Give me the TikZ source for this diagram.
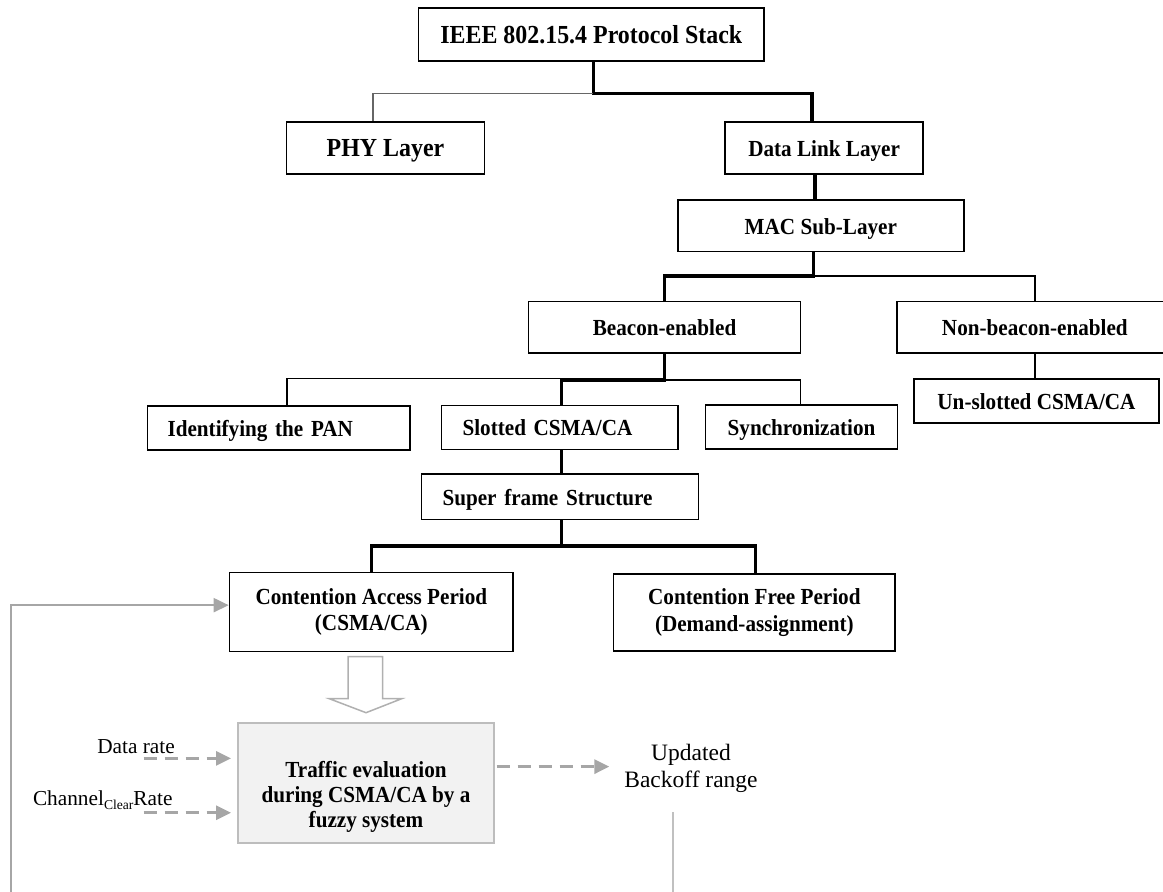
\documentclass[tikz,border=0pt]{standalone}
\usepackage{fontspec}
\setmainfont{Liberation Serif}
\newfontfamily\boxfont[FakeStretch=0.92]{Liberation Serif}
\usetikzlibrary{arrows.meta}
\definecolor{linkgray}{HTML}{A6A6A6}
\definecolor{fuzzyfill}{HTML}{F2F2F2}
\definecolor{fuzzyedge}{HTML}{BDBDBD}
\definecolor{bargray}{HTML}{C0C0C0}
\definecolor{blockgray}{HTML}{B0B0B0}
\begin{document}
\begin{tikzpicture}[x=1pt,y=-1pt,
  box/.style={draw=black, line width=1.7pt, inner sep=0pt, anchor=north west,
    align=center, font=\boxfont\fontsize{23}{26.6}\selectfont\bfseries},
  sbox/.style={box, text height=20pt, text depth=3pt},
  bigbox/.style={sbox, font=\boxfont\fontsize{26}{28}\selectfont\bfseries},
  thickline/.style={line width=3.2pt},
  thinline/.style={line width=1.3pt},
  plainlabel/.style={inner sep=0pt, font=\fontsize{21.3}{25}\selectfont},
  dasharrow/.style={draw=linkgray, line width=3pt, dash pattern=on 13pt off 8pt,
    -{Triangle[length=15pt,width=14pt,fill=linkgray]}},
  fbarrow/.style={draw=linkgray, line width=2pt,
    -{Triangle[length=15pt,width=14pt,fill=linkgray]}}]
\useasboundingbox (0,0) rectangle (1163,892);

% protocol stack tree
\node[bigbox, minimum width=345.8pt, minimum height=52.7pt] (root) at (417.5,7.3) {IEEE 802.15.4 Protocol Stack};
\node[bigbox, minimum width=198.2pt, minimum height=52pt] (phy) at (285.5,121) {PHY Layer};
\node[sbox, minimum width=198.2pt, minimum height=52pt] (dl) at (724.2,121) {Data Link Layer};
\node[sbox, minimum width=286pt, minimum height=51.7pt] (mac) at (677,199) {MAC Sub-Layer};
\node[sbox, minimum width=272pt, minimum height=51.6pt] (be) at (527.7,300.7) {Beacon-enabled};
\node[sbox, minimum width=276pt, minimum height=51.6pt] (nbe) at (896,300.7) {Non-beacon-enabled};
\node[sbox, text width=222.6pt, inner xsep=20pt, align=left, minimum height=44pt] (pan) at (146.7,405) {Identifying the PAN};
\node[sbox, text width=194.6pt, inner xsep=21pt, align=left, minimum height=44pt] (slot) at (440.7,404.5) {Slotted CSMA/CA};
\node[sbox, minimum width=192pt, minimum height=44pt] (sync) at (704.7,404) {Synchronization};
\node[sbox, minimum width=244.7pt, minimum height=44pt] (unslot) at (913.3,378.3) {Un-slotted CSMA/CA};
\node[sbox, text width=235pt, inner xsep=21pt, align=left, minimum height=45.4pt] (sfs) at (420.7,473.3) {Super frame Structure};
\node[box, minimum width=283.6pt, minimum height=79pt] (cap) at (228.7,571.7) {Contention Access Period\\(CSMA/CA)};
\node[box, minimum width=281.6pt, minimum height=76.7pt] (cfp) at (612.7,573.3) {Contention Free Period\\(Demand-assignment)};

% fuzzy traffic evaluation block
\node[box, draw=fuzzyedge, fill=fuzzyfill, line width=2pt, minimum width=255.4pt,
  minimum height=120.3pt, text height=94.7pt, text depth=5pt,
  font=\boxfont\fontsize{23}{25}\selectfont\bfseries] (fz) at (237.3,721.7)
  {Traffic evaluation\\during CSMA/CA by a\\fuzzy system};
\node[plainlabel, anchor=base east] (dr) at (175,753.3) {Data rate};
\node[plainlabel, anchor=base east] (ccr) at (172.7,805)
  {Channel\raisebox{-4.5pt}{\fontsize{13.6}{15}\selectfont Clear}Rate};
\node[inner sep=0pt, anchor=north, align=center, font=\fontsize{23.5}{26.7}\selectfont] (upd) at (691,744)
  {Updated\\Backoff range};

% tree connectors
\draw[thickline] ([xshift=2pt]root.south) -- ++(0,31.7) -| ([xshift=-12.1pt]dl.north);
\draw[thinline, draw=black!60] ([xshift=2pt]root.south) ++(0,31.7) -| ([xshift=-12.6pt]phy.north);
\draw[thickline] ([xshift=-9.1pt]dl.south) -- ([xshift=-9.1pt]dl.south |- mac.north);
\draw[thickline] ([xshift=-7.3pt]mac.south) -- ++(0,23.6) -| (be.north);
\draw[thinline] ([xshift=-7.3pt]mac.south) ++(0,23.6) -| (nbe.north);
\draw[thickline] (be.south) -- ++(0,26) -| ([xshift=2pt]slot.north);
\draw[thinline] (be.south) ++(0,26) -| ([xshift=-1.4pt]sync.north);
\draw[thinline] ([xshift=2pt]slot.north) ++(0,-26.2) -| ([xshift=8pt]pan.north);
\draw[thinline] (nbe.south) -- (nbe.south |- unslot.north);
\draw[thickline] ([xshift=2pt]slot.south) -- ([xshift=2pt]slot.south |- sfs.north);
\draw[thickline] ([xshift=1.8pt]sfs.south) -- ++(0,25.6) -| (cap.north);
\draw[thickline] ([xshift=1.8pt]sfs.south) ++(0,25.6) -| ([xshift=1.5pt]cfp.north);

% hollow block arrow from the access period to the fuzzy system
\draw[draw=blockgray, line width=1.5pt, fill=white, line join=miter]
  (348,656.7) -- (382.7,656.7) -- (382.7,698.7) -- (401.7,698.7) -- (366,712.7)
  -- (329.3,698.7) -- (348,698.7) -- cycle;

% inputs and output of the fuzzy system
\draw[dasharrow] ([xshift=-93.6pt,yshift=24.5pt]fz.west) -- ([xshift=-6.3pt,yshift=24.5pt]fz.west);
\draw[dasharrow] ([xshift=-93.6pt,yshift=-29.9pt]fz.west) -- ([xshift=-6.3pt,yshift=-29.9pt]fz.west);
\draw[dasharrow] ([xshift=2pt,yshift=16.2pt]fz.east) -- ([xshift=114.6pt,yshift=16.2pt]fz.east);

% feedback path
\coordinate (fb) at (11,895);
\draw[fbarrow] (fb) |- ([yshift=6.9pt]cap.west);
\draw[line width=2pt, draw=bargray] ([xshift=-18pt,yshift=-20pt]upd.south) -- ++(0,90);
\end{tikzpicture}
\end{document}
